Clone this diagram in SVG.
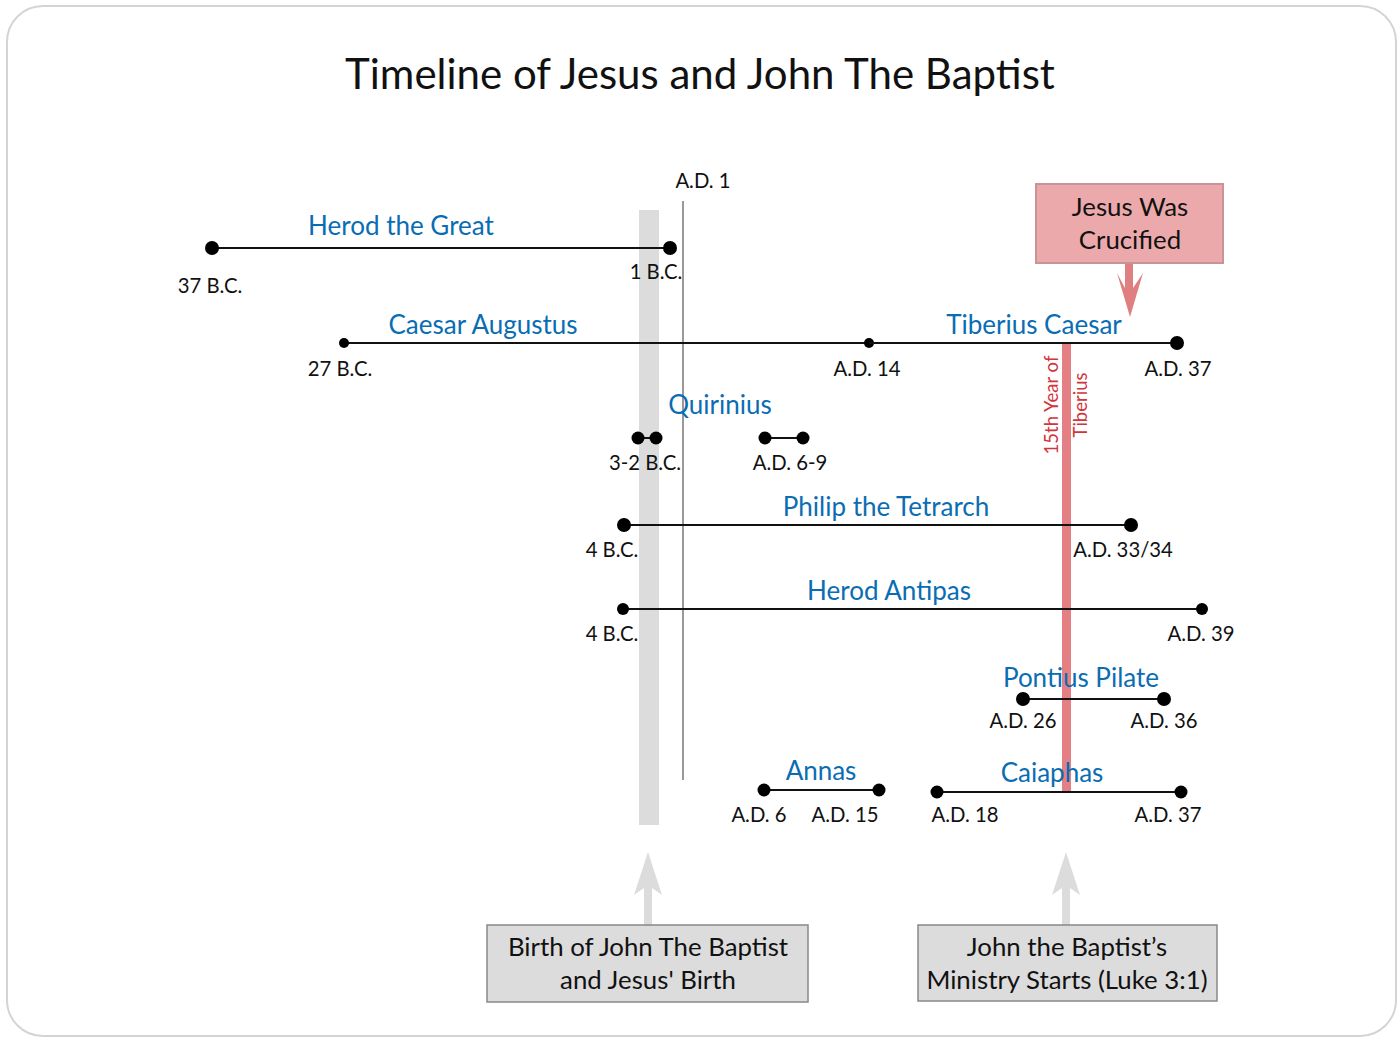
<svg xmlns="http://www.w3.org/2000/svg" width="1400" height="1045" viewBox="0 0 1400 1045">
<style>
.t{font-family:Lato,"Liberation Sans",sans-serif;fill:#111;text-anchor:middle}
.lab{font-family:Lato,"Liberation Sans",sans-serif;font-size:26px;fill:#0a6db3;text-anchor:middle}
.d{font-family:Lato,"Liberation Sans",sans-serif;font-size:20.3px;fill:#111;text-anchor:middle}
.ln{stroke:#111;stroke-width:2;fill:none}
.dot{fill:#000}
.box{font-family:Lato,"Liberation Sans",sans-serif;font-size:25.8px;fill:#111;text-anchor:middle}
.rot{font-family:Lato,"Liberation Sans",sans-serif;font-size:18.5px;fill:#d2343b;text-anchor:middle}
</style>
<rect x="7" y="6" width="1389" height="1030" rx="36" fill="#fff" stroke="#d4d4d4" stroke-width="2"/>
<text class="t" x="700" y="89" font-size="42">Timeline of Jesus and John The Baptist</text>

<g id="birth-band"><rect x="639" y="210" width="20" height="615" fill="#dcdcdc"/></g>
<g id="ad1-marker">
<line x1="683" y1="201" x2="683" y2="780" stroke="#999" stroke-width="2"/>
<text class="d" x="703" y="188">A.D. 1</text>
</g>
<g id="tiberius-15"><rect x="1062" y="343" width="9" height="449" fill="#e48083"/>
<text class="rot" transform="translate(1058,405) rotate(-90)">15th Year of</text>
<text class="rot" transform="translate(1087,405) rotate(-90)">Tiberius</text>
</g>

<g id="connectors">
<path d="M1125,263 H1133 V288 L1143,273 L1130,317 L1117,273 L1125,288 Z" fill="#e07f82"/>
<path d="M648,852 L662,895 L652,888 V925 H644 V888 L634,895 Z" fill="#dcdcdc"/>
<path d="M1066,852 L1080,895 L1070,888 V925 H1062 V888 L1052,895 Z" fill="#dcdcdc"/>
</g>

<g id="herod-great">
<line class="ln" x1="212" y1="248" x2="670" y2="248"/>
<circle class="dot" cx="212" cy="248" r="7"/><circle class="dot" cx="670" cy="248" r="7"/>
<text class="lab" x="401" y="235">Herod the Great</text>
<text class="d" x="210" y="293">37 B.C.</text>
<text class="d" x="656" y="279">1 B.C.</text>
</g>

<g id="caesar-augustus">
<line class="ln" x1="344" y1="343" x2="869" y2="343"/>
<circle class="dot" cx="344" cy="343" r="5"/><circle class="dot" cx="869" cy="343" r="5"/>
<text class="lab" x="483" y="334">Caesar Augustus</text>
<text class="d" x="340" y="376">27 B.C.</text>
<text class="d" x="867" y="376">A.D. 14</text>
</g>

<g id="tiberius-caesar">
<line class="ln" x1="869" y1="343" x2="1177" y2="343"/>
<circle class="dot" cx="1177" cy="343" r="7"/>
<text class="lab" x="1034" y="334">Tiberius Caesar</text>
<text class="d" x="1178" y="376">A.D. 37</text>
</g>

<g id="crucified">
<rect x="1036" y="184" width="187" height="79" fill="#eba9ab" stroke="#c89597" stroke-width="2"/>
<text class="box" x="1130" y="216">Jesus Was</text>
<text class="box" x="1130" y="249">Crucified</text>
</g>

<g id="quirinius">
<line class="ln" x1="638" y1="438" x2="656" y2="438"/>
<line class="ln" x1="765" y1="438" x2="803" y2="438"/>
<circle class="dot" cx="638" cy="438" r="6.5"/><circle class="dot" cx="656" cy="438" r="6.5"/>
<circle class="dot" cx="765" cy="438" r="6.5"/><circle class="dot" cx="803" cy="438" r="6.5"/>
<text class="lab" x="720" y="414">Quirinius</text>
<text class="d" x="645" y="470">3-2 B.C.</text>
<text class="d" x="790" y="470">A.D. 6-9</text>
</g>

<g id="philip">
<line class="ln" x1="624" y1="525" x2="1131" y2="525"/>
<circle class="dot" cx="624" cy="525" r="7"/><circle class="dot" cx="1131" cy="525" r="7"/>
<text class="lab" x="886" y="516">Philip the Tetrarch</text>
<text class="d" x="612" y="557">4 B.C.</text>
<text class="d" x="1123" y="557">A.D. 33/34</text>
</g>

<g id="herod-antipas">
<line class="ln" x1="623" y1="609" x2="1202" y2="609"/>
<circle class="dot" cx="623" cy="609" r="6"/><circle class="dot" cx="1202" cy="609" r="6"/>
<text class="lab" x="889" y="600">Herod Antipas</text>
<text class="d" x="612" y="641">4 B.C.</text>
<text class="d" x="1201" y="641">A.D. 39</text>
</g>

<g id="pilate">
<line class="ln" x1="1023" y1="699" x2="1164" y2="699"/>
<circle class="dot" cx="1023" cy="699" r="7"/><circle class="dot" cx="1164" cy="699" r="7"/>
<text class="lab" x="1081" y="687">Pontius Pilate</text>
<text class="d" x="1023" y="728">A.D. 26</text>
<text class="d" x="1164" y="728">A.D. 36</text>
</g>

<g id="annas">
<line class="ln" x1="764" y1="790" x2="879" y2="790"/>
<circle class="dot" cx="764" cy="790" r="6.5"/><circle class="dot" cx="879" cy="790" r="6.5"/>
<text class="lab" x="821" y="780">Annas</text>
<text class="d" x="759" y="822">A.D. 6</text>
<text class="d" x="845" y="822">A.D. 15</text>
</g>

<g id="caiaphas">
<line class="ln" x1="937" y1="792" x2="1181" y2="792"/>
<circle class="dot" cx="937" cy="792" r="6.5"/><circle class="dot" cx="1181" cy="792" r="6.5"/>
<text class="lab" x="1052" y="782">Caiaphas</text>
<text class="d" x="965" y="822">A.D. 18</text>
<text class="d" x="1168" y="822">A.D. 37</text>
</g>

<g id="birth-box">
<rect x="487" y="925" width="321" height="77" fill="#dcdcdc" stroke="#888" stroke-width="1.5"/>
<text class="box" x="648" y="956">Birth of John The Baptist</text>
<text class="box" x="648" y="989">and Jesus' Birth</text>
</g>

<g id="ministry-box">
<rect x="918" y="925" width="299" height="76" fill="#dcdcdc" stroke="#888" stroke-width="1.5"/>
<text class="box" x="1067" y="956">John the Baptist’s</text>
<text class="box" x="1067" y="989">Ministry Starts (Luke 3:1)</text>
</g>
</svg>
